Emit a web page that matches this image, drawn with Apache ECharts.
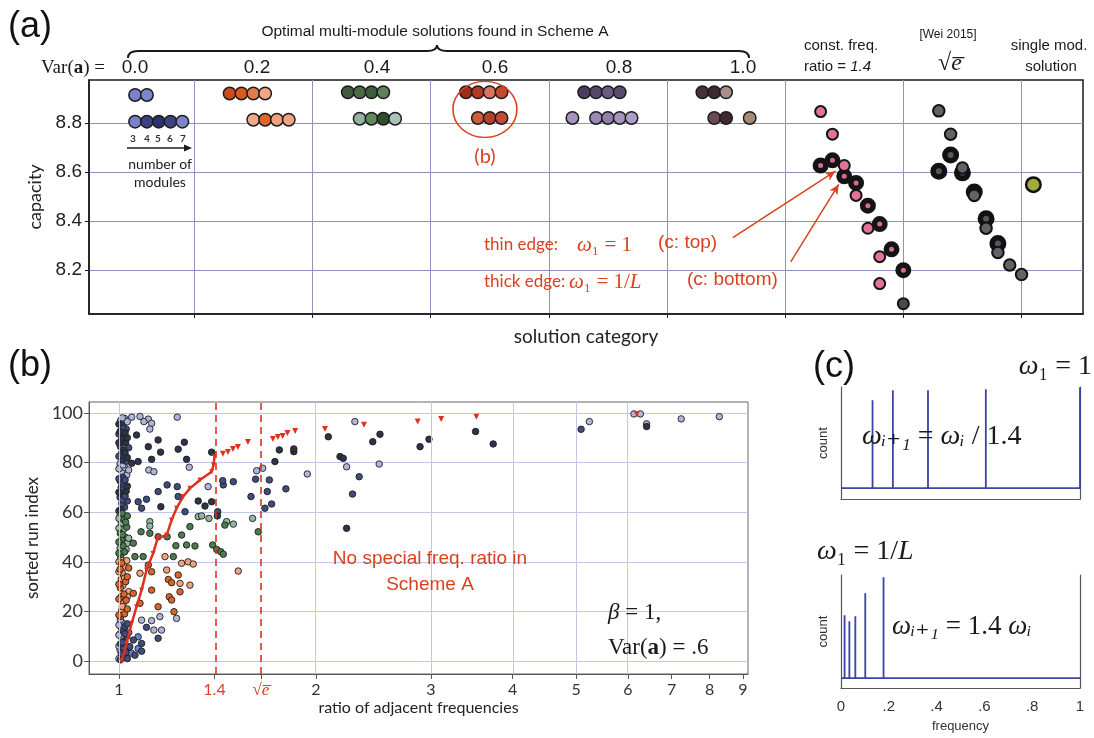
<!DOCTYPE html>
<html><head><meta charset="utf-8">
<script src="https://cdn.jsdelivr.net/npm/echarts@6/dist/echarts.min.js"></script>
<style>html,body{margin:0;padding:0;background:#fff}#c{width:1094px;height:738px}</style>
</head><body><div id="c"></div><script>
// ================= DATA =================
// ---- Panel (a): capacity of solutions per category ----
const A_CAT_LABELS = ['0.0', '0.2', '0.4', '0.6', '0.8', '1.0'];
const A_Y_TICKS = [8.2, 8.4, 8.6, 8.8];
const A_X_BOUNDS = [1, 2, 3, 4, 5, 6, 7, 8];
const A_MODULE_LABELS = ['3', '4', '5', '6', '7'];
// [position within solution category, capacity]
const varTopRow = [
  [0.5, 8.914], [0.6, 8.914],
  [1.3, 8.92], [1.4, 8.92], [1.5, 8.92], [1.6, 8.92],
  [2.3, 8.925], [2.4, 8.925], [2.5, 8.925], [2.6, 8.925],
  [3.3, 8.925], [3.4, 8.925], [3.5, 8.925], [3.6, 8.925],
  [4.3, 8.925], [4.4, 8.925], [4.5, 8.925], [4.6, 8.925],
  [5.3, 8.925], [5.4, 8.925], [5.5, 8.925]
];
const varTopColors = ['#7b80cc', '#7e83cd',
  '#cc4b1a', '#d85a22', '#e57b4c', '#f0a785',
  '#3f5b3c', '#4b6b47', '#3d5c3a', '#5f7f5b',
  '#9e2c19', '#b63a22', '#dc735c', '#c84a2e',
  '#4a3b60', '#56466e', '#6a5a84', '#5a4a73',
  '#4a2f38', '#3d2a31', '#a58f87'];
const varBottomRow = [
  [0.5, 8.805], [0.6, 8.805], [0.7, 8.805], [0.8, 8.805], [0.9, 8.805],
  [1.5, 8.813], [1.6, 8.813], [1.7, 8.813], [1.8, 8.813],
  [2.4, 8.817], [2.5, 8.817], [2.6, 8.817], [2.7, 8.817],
  [3.4, 8.82], [3.5, 8.82], [3.6, 8.82],
  [4.2, 8.82], [4.4, 8.82], [4.5, 8.82], [4.6, 8.82], [4.7, 8.82],
  [5.4, 8.82], [5.5, 8.82], [5.7, 8.82]
];
const varBottomColors = ['#7b80c9', '#3b4080', '#2c306e', '#3d4281', '#7f83c9',
  '#f2a98a', '#e2662a', '#f0a080', '#eea386',
  '#94b39d', '#5e8a5c', '#2f4d2e', '#a9c4b3',
  '#d15a3f', '#b7412a', '#c44b37',
  '#a694be', '#9b89b5', '#907eab', '#a395bd', '#ae9fc8',
  '#6b4a56', '#3d2a31', '#a28a7c'];
const constThin = [[6.3, 8.846], [6.4, 8.754], [6.5, 8.626], [6.6, 8.504], [6.7, 8.370], [6.8, 8.254], [6.8, 8.144], [7.0, 8.062]];
const constThinColors = ['#e4709c', '#e4709c', '#e4709c', '#e4709c', '#e4709c', '#e4709c', '#e4709c', '#4a4a4e'];
const constThick = [[6.3, 8.626], [6.4, 8.647], [6.5, 8.582], [6.6, 8.555], [6.7, 8.462], [6.8, 8.387], [6.9, 8.284], [7.0, 8.199]];
const sqrtEThin = [[7.3, 8.849], [7.4, 8.754], [7.5, 8.616], [7.6, 8.504], [7.7, 8.370], [7.8, 8.271], [7.9, 8.220], [8.0, 8.181]];
const sqrtEThick = [[7.3, 8.603], [7.4, 8.669], [7.5, 8.596], [7.6, 8.518], [7.7, 8.409], [7.8, 8.308]];
const singleModule = [[8.1, 8.548]];

// ---- Panel (b): ratio of adjacent frequencies vs sorted run index ----
const B_TICK_VALUES = [1, 1.4, Math.sqrt(Math.E), 2, 3, 4, 5, 6, 7, 8, 9];
const B_TICK_LABELS = ['1', '{r|1.4}', '{s|√}{si|e\u0305}', '2', '3', '4', '5', '6', '7', '8', '9'];
const B_GRID_RATIOS = [1, 2, 3, 4, 5, 6];
const B_SPECIAL_RATIOS = [1.4, Math.sqrt(Math.E)];
const B_Y_TICKS = [0, 20, 40, 60, 80, 100];
const bDark = [[1.064,91.1],[1.148,89.1],[1.259,88.2],[1.109,86.4],[1.158,84.2],[1.232,85.4],[1.386,84.2],[1.122,81.3],[1.269,81.3],[1.046,79.7],[1.070,80.4],[1.322,64.5],[1.354,62.5],[1.386,64.2],[1.159,62.2],[1.414,58.5],[1.759,85.1],[1.732,80.4],[1.851,84.4],[1.851,85.5],[2.090,90.4],[2.178,82.4],[2.203,81.7],[2.229,53.5],[2.444,88.4],[2.507,91.4],[2.887,86.4],[2.979,89.4],[3.51,92.5],[3.735,87.5],[6.41,94.5],
  [1.012,81],[1.018,85],[1.024,88],[1.006,61],[1.026,68.5],[1.01,89.5],[1.03,82],[1.004,92.5],
  [1.0,68],[1.03,70.5],[1.022,84],[1.0,88],[1.03,90],[1.022,92],[1.0,95.5]];
const bNavy = [[1.228,70.3],[1.148,68.3],[1.185,71.0],[1.232,66.3],[1.070,64.2],[1.102,65.2],[1.083,61.6],[1.262,60.2],[1.416,60.2],[1.444,71.0],[1.496,72.3],[1.441,72.7],[1.698,73.0],[1.618,73.3],[1.800,69.4],[1.686,68.3],[1.712,63.3],[1.592,66.3],[1.672,61.6],[2.330,74.3],[2.276,67.3],[5.09,93.4],[1.102,13.6],[1.148,9.2],[1.083,7.1],[1.052,8.5],[1.039,5.8],[1.083,4.0],[1.058,2.4],
  [1.02,62],[1.01,63.5],[1.03,64.5],[1.004,66],[1.016,67],[1.008,70],[1.018,71],[1.005,72.5],[1.014,74],[1.008,83.5],[1.005,86.5],[1.016,91],[1.026,93.5],[1.01,95],[1.012,1.5],[1.008,3],[1.025,3.5],[1.015,5.5],[1.006,7],[1.018,8],[1.028,10],[1.016,12],[1.022,14],[1.005,0.5],
  [1.0,60.5],[1.012,65],[1.022,66.5],[1.014,69],[1.0,73.5],[1.022,73],[1.026,80.5],[1.0,82.5],[1.035,86],[1.014,88.5],[1.0,91.5],[1.012,94],
  [1.03,1],[1.012,7.5],[1.022,11],[1.03,15]];
const bLavender = [[1.046,98.3],[1.109,97.5],[1.122,95.8],[1.228,98.3],[1.115,93.5],[1.281,78.1],[1.111,77.0],[1.131,76.3],[1.369,70.3],[1.659,77.7],[1.624,76.7],[1.941,75.4],[2.229,78.3],[2.295,96.5],[2.500,79.4],[5.24,96.5],[6.13,99.6],[6.27,99.6],[6.41,95.6],[7.24,97.6],[8.28,98.5],[1.155,17.9],[1.225,17.2],[1.083,16.5],[1.122,16.3],[1.131,12.5],[1.162,12.5],[1.077,98.6],[1.092,96.5],
  [1.028,75],[1.01,76.5],[1.02,78],[1.004,79.5],[1.018,96],[1.006,97],[1.02,97.8],[1.004,11],[1.01,9.5],[1.02,2],[1.03,6],[1.012,15.5],[1.008,13.5],[1.005,16.5],[1.004,4.5],
  [1.035,77],[1.0,77.5],[1.014,79],[1.03,96.5],[1.012,98],[1.0,1],[1.0,6],[1.0,10.5],[1.0,14.5]];
const bBlue = [[1.070,9.8],[1.070,5.1],[1.035,11.5],[1.045,3.2]];
const bOrange = [[1.109,38.7],[1.122,36.0],[1.190,32.9],[1.232,34.7],[1.204,31.6],[1.122,28.6],[1.240,27.9],[1.194,25.9],[1.204,24.6],[1.052,27.3],[1.077,23.3],[1.148,21.9],[1.214,19.9],
  [1.006,18],[1.02,19],[1.03,21],[1.026,24.5],[1.018,27],[1.005,29.5],[1.024,32],[1.03,34],[1.004,37],[1.01,39.5],
  [1.0,18.5],[1.0,25],[1.0,31],[1.035,37.5]];
const bSalmon = [[1.176,42.1],[1.247,39.4],[1.276,40.0],[1.299,39.1],[1.522,36.3],[1.077,35.4],[1.183,36.7],[1.240,31.3],[1.284,30.6],
  [1.01,20.5],[1.016,23.5],[1.008,26],[1.035,28],[1.014,30.5],[1.008,33],[1.012,35.5],[1.02,38],[1.028,40.5],[1.006,41.5],
  [1.012,22],[1.03,26],[1.02,33.5],[1.0,36],[1.0,40]];
const bGreen = [[1.452,54.8],[1.633,52.1],[1.081,52.1],[1.115,51.5],[1.148,50.1],[1.185,50.1],[1.284,54.2],[1.247,50.8],[1.222,46.5],[1.269,46.8],[1.307,46.4],[1.391,46.8],[1.411,45.0],[1.431,44.1],[1.444,43.1],[1.052,47.5],[1.058,42.1],[1.089,42.1],[1.211,42.1],
  [1.008,43],[1.02,44],[1.014,46.5],[1.01,49],[1.005,51.5],[1.028,54],[1.018,57],[1.012,59.5],
  [1.0,43.5],[1.0,48],[1.012,51],[1.024,56],[1.03,58.5]];
const bLightGreen = [[1.322,58.2],[1.338,58.5],[1.373,57.5],[1.461,56.2],[1.496,55.2],[1.601,57.5],[1.115,56.2],[1.115,54.4],
  [1.004,45.5],[1.03,47.5],[1.022,50],[1.016,53],[1.008,55.5],[1.004,58.5],
  [1.026,45],[1.035,49.5],[1.0,53.5],[1.0,57.5]];
// sorted per-run frequency ratio (red)
const bRedCurve = [[1.01,0],[1.027,7.1],[1.046,15.2],[1.064,21.9],[1.083,28.6],[1.102,36.7],[1.128,43.4],[1.146,49.5],[1.183,50.8],[1.204,56.9],[1.225,61.6],[1.254,66.3],[1.284,69.6],[1.33,73],[1.386,76.3],[1.395,79],[1.40,82.4]];
const bRedSparse = [[1.442,83.5],[1.468,84.3],[1.494,85.5],[1.52,86.3],[1.575,88.3],[1.72,89.5],[1.75,90.3],[1.78,90.7],[1.81,91.9],[1.86,92.7],[2.066,93.5],[2.37,95.2],[2.863,96.5],[3.11,97.6],[3.52,98.5],[6.19,99.6]];

// ---- Panel (c): frequency histograms ----
const C_X_LABELS = ['0', '.2', '.4', '.6', '.8', '1'];
const cTopFreq = [0.132, 0.217, 0.364, 0.606, 1.0];
const cTopCount = [88, 98, 98, 99, 101];
const cBotFreq = [0.015, 0.035, 0.060, 0.1015, 0.178];
const cBotCount = [63, 57, 62, 85, 101];

// ================= BUILD =================
const RED = '#d9411e';
const SERIF = '"Liberation Serif", "DejaVu Serif", serif';
function lnPts(a) { return a.map(p => [Math.log(p[0]), p[1]]); }
function spikes(f, c) {
  const d = [[0, 0]];
  f.forEach((x, i) => { d.push([x, 0], [x, c[i]], [x, 0]); });
  d.push([1, 0]);
  return d;
}
function T(x, y, text, font, fill, align, extra) {
  const st = Object.assign({ text: text, font: font, fill: fill || '#1a1a1a',
    align: align || 'center', verticalAlign: 'middle', textAlign: align || 'center', textVerticalAlign: 'middle' }, extra || {});
  return { type: 'text', x: x, y: y, z: 100, silent: true, style: st };
}
const mathRich = (size, col) => ({
  i: { font: 'italic ' + size + 'px ' + SERIF, fill: col, color: col },
  r: { font: size + 'px ' + SERIF, fill: col, color: col },
  b: { font: 'bold ' + size + 'px ' + SERIF, fill: col, color: col }
});

const bLnTicks = B_TICK_VALUES.map(v => Math.log(v));
function bLabel(v) {
  for (let i = 0; i < bLnTicks.length; i++) if (Math.abs(bLnTicks[i] - v) < 1e-6) return B_TICK_LABELS[i];
  return '';
}

const noSplit = { show: false };
const axLine = (c, w) => ({ show: true, onZero: false, lineStyle: { color: c, width: w || 1 } });
const braceStyle = { stroke: '#1a1a1a', lineWidth: 2, fill: 'none' };

const graphics = [
  T(8, 27, '(a)', '36px "Liberation Sans"', '#111', 'left'),
  T(435, 32, 'Optimal multi-module solutions found in Scheme A', '15.5px "Liberation Sans"', '#1a1a1a'),
  { type: 'bezierCurve', z: 100, silent: true, shape: { x1: 128, y1: 58, cpx1: 128, cpy1: 51, x2: 138, y2: 51 }, style: braceStyle },
  { type: 'line', z: 100, silent: true, shape: { x1: 138, y1: 51, x2: 427, y2: 51 }, style: braceStyle },
  { type: 'bezierCurve', z: 100, silent: true, shape: { x1: 427, y1: 51, cpx1: 437, cpy1: 51, x2: 437, y2: 45 }, style: braceStyle },
  { type: 'bezierCurve', z: 100, silent: true, shape: { x1: 437, y1: 45, cpx1: 437, cpy1: 51, x2: 447, y2: 51 }, style: braceStyle },
  { type: 'line', z: 100, silent: true, shape: { x1: 447, y1: 51, x2: 739, y2: 51 }, style: braceStyle },
  { type: 'bezierCurve', z: 100, silent: true, shape: { x1: 739, y1: 51, cpx1: 749, cpy1: 51, x2: 749, y2: 58 }, style: braceStyle },
  T(105, 68, '{r|Var(}{b|a}{r|) =}', '19px ' + SERIF, '#1a1a1a', 'right', { rich: mathRich(19, '#1a1a1a') }),
  T(804, 46, 'const. freq.', '15px "Liberation Sans"', '#1a1a1a', 'left'),
  T(804, 67, '{n|ratio = }{it|1.4}', '15px "Liberation Sans"', '#1a1a1a', 'left',
    { rich: { n: { font: '15px "Liberation Sans"', fill: '#1a1a1a' }, it: { font: 'italic 15px "Liberation Sans"', fill: '#1a1a1a' } } }),
  T(948, 35, '[Wei 2015]', '12px "Liberation Sans"', '#1a1a1a'),
  T(950, 64, '{r|√}{i|e\u0305}', '24px ' + SERIF, '#1a1a1a', 'center', { rich: mathRich(24, '#1a1a1a') }),
  T(1049, 46, 'single mod.', '15px "Liberation Sans"', '#1a1a1a'),
  T(1051, 67, 'solution', '15px "Liberation Sans"', '#1a1a1a'),
  T(485, 157, '(b)', '20px Lato', RED),
  T(484, 245, 'thin edge:', '17px Lato', RED, 'left'),
  T(577, 245, '{i|ω}{r|₁ = 1}', '21px ' + SERIF, RED, 'left', { rich: mathRich(21, RED) }),
  T(658, 243, '(c: top)', '19px "Liberation Sans"', RED, 'left'),
  T(484, 282, 'thick edge:', '17px Lato', RED, 'left'),
  T(569, 282, '{i|ω}{r|₁ = 1/}{i|L}', '21px ' + SERIF, RED, 'left', { rich: mathRich(21, RED) }),
  T(687, 280, '(c: bottom)', '19px "Liberation Sans"', RED, 'left'),
  { type: 'line', z: 100, silent: true, shape: { x1: 127, y1: 148, x2: 186, y2: 148 }, style: { stroke: '#1a1a1a', lineWidth: 1.5 } },
  { type: 'polygon', z: 100, silent: true, shape: { points: [[192, 148], [184, 144.5], [184, 151.5]] }, style: { fill: '#1a1a1a' } },
  T(192, 164, 'number of', '14px Lato', '#1a1a1a', 'right'),
  T(160, 182, 'modules', '14px Lato', '#1a1a1a'),
  T(8, 366, '(b)', '36px "Liberation Sans"', '#111', 'left'),
  T(430, 559, 'No special freq. ratio in', '19px "Liberation Sans"', RED),
  T(430, 585, 'Scheme A', '19px "Liberation Sans"', RED),
  T(608, 613, '{i|β}{r| = 1,}', '23px ' + SERIF, '#1a1a1a', 'left', { rich: mathRich(23, '#1a1a1a') }),
  T(608, 648, '{r|Var(}{b|a}{r|) = .6}', '23px ' + SERIF, '#1a1a1a', 'left', { rich: mathRich(23, '#1a1a1a') }),
  T(813, 367, '(c)', '36px "Liberation Sans"', '#111', 'left'),
  T(1092, 367, '{i|ω}{r|₁ = 1}', '28px ' + SERIF, '#1a1a1a', 'right', { rich: mathRich(28, '#1a1a1a') }),
  T(862, 437, '{i|ωᵢ₊₁}{r| = }{i|ωᵢ}{r| / 1.4}', '28px ' + SERIF, '#1a1a1a', 'left', { rich: mathRich(28, '#1a1a1a') }),
  T(817, 552, '{i|ω}{r|₁ = 1/}{i|L}', '28px ' + SERIF, '#1a1a1a', 'left', { rich: mathRich(28, '#1a1a1a') }),
  T(892, 627, '{i|ωᵢ₊₁}{r| = 1.4 }{i|ωᵢ}', '27px ' + SERIF, '#1a1a1a', 'left', { rich: mathRich(27, '#1a1a1a') })
];
const A_LABEL_X = [135, 257, 377, 495, 619, 743];
A_CAT_LABELS.forEach((t, i) => graphics.push(T(A_LABEL_X[i], 68, t, '19px "Liberation Sans"', '#1a1a1a')));
const MOD_X = [133, 147, 158, 170, 183];
A_MODULE_LABELS.forEach((t, i) => graphics.push(T(MOD_X[i], 139, t, 'bold 10px Lato', '#333')));

function dotSeries(data, color, z) {
  return { type: 'scatter', xAxisIndex: 1, yAxisIndex: 1, data: lnPts(data), symbolSize: 6.5, z: z || 3,
    itemStyle: { color: color, borderColor: '#1e1e1e', borderWidth: 0.9, opacity: 1 } };
}

const option = {
  animation: false,
  backgroundColor: '#fff',
  grid: [
    { left: 89, top: 80, width: 994, height: 234, show: true, borderColor: '#1a1a1a', borderWidth: 1.5, backgroundColor: 'transparent' },
    { left: 89, top: 402, width: 659, height: 272, show: true, borderColor: '#666', borderWidth: 1, backgroundColor: 'transparent' },
    { left: 841, top: 387, width: 239, height: 112 },
    { left: 841, top: 575, width: 239, height: 113 }
  ],
  xAxis: [
    { gridIndex: 0, type: 'value', min: 0.11, max: 8.52, splitNumber: 9,
      axisLine: axLine('#1a1a1a', 1.5), axisTick: { show: true, length: 4, customValues: A_X_BOUNDS, lineStyle: { color: '#1a1a1a' } },
      axisLabel: { show: false }, splitLine: { show: true, lineStyle: { color: '#8f93bb', width: 1 } },
      name: 'solution category', nameLocation: 'middle', nameGap: 13, nameTextStyle: { fontFamily: 'Lato', fontSize: 19, color: '#222' } },
    { gridIndex: 1, type: 'value', min: Math.log(0.9), max: Math.log(9.16),
      axisLine: axLine('#555'), axisTick: { show: true, length: 5, customValues: bLnTicks, lineStyle: { color: '#555' } },
      axisLabel: { customValues: bLnTicks, formatter: bLabel, fontSize: 16, fontFamily: 'Lato', color: '#333', margin: 8,
        rich: { r: { color: RED, fontSize: 16, fontFamily: 'Lato' }, s: { color: RED, fontSize: 17, fontFamily: 'Liberation Serif' },
                si: { color: RED, fontSize: 17, fontFamily: 'Liberation Serif', fontStyle: 'italic' } } },
      splitLine: noSplit,
      name: 'ratio of adjacent frequencies', nameLocation: 'middle', nameGap: 23, nameTextStyle: { fontFamily: 'Lato', fontSize: 16, color: '#222' } },
    { gridIndex: 2, type: 'value', min: 0, max: 1, axisLine: axLine('#555', 1.2), axisTick: { show: false }, axisLabel: { show: false }, splitLine: noSplit },
    { gridIndex: 3, type: 'value', min: 0, max: 1, interval: 0.2, axisLine: axLine('#555', 1.2), axisTick: { show: false },
      axisLabel: { formatter: v => C_X_LABELS[Math.round(v * 5)], fontSize: 15, fontFamily: 'Liberation Sans', color: '#333', margin: 11 },
      splitLine: noSplit, name: 'frequency', nameLocation: 'middle', nameGap: 32, nameTextStyle: { fontFamily: 'Liberation Sans', fontSize: 13, color: '#333' } }
  ],
  yAxis: [
    { gridIndex: 0, type: 'value', min: 8.02, max: 8.975,
      axisLine: axLine('#1a1a1a', 1.5), axisTick: { show: true, length: 4, customValues: A_Y_TICKS, lineStyle: { color: '#1a1a1a' } },
      axisLabel: { customValues: A_Y_TICKS, formatter: v => v.toFixed(1), fontSize: 19, fontFamily: 'Liberation Sans', color: '#222', margin: 7 },
      splitLine: { show: true, lineStyle: { color: '#8f93bb', width: 1 } },
      name: 'capacity', nameLocation: 'middle', nameGap: 43, nameTextStyle: { fontFamily: 'Lato', fontSize: 18, color: '#222' } },
    { gridIndex: 1, type: 'value', min: -5.2, max: 104.4,
      axisLine: axLine('#555'), axisTick: { show: true, length: 5, customValues: B_Y_TICKS, lineStyle: { color: '#555' } },
      axisLabel: { customValues: B_Y_TICKS, fontSize: 18, fontFamily: 'Lato', color: '#333', margin: 6 },
      splitLine: { show: true, lineStyle: { color: '#c3c6e6', width: 1 } },
      name: 'sorted run index', nameLocation: 'middle', nameGap: 37, nameTextStyle: { fontFamily: 'Lato', fontSize: 17, color: '#222' } },
    { gridIndex: 2, type: 'value', min: -11, max: 101.3, axisLine: axLine('#555', 1.2), axisTick: { show: false }, axisLabel: { show: false }, splitLine: noSplit,
      name: 'count', nameLocation: 'middle', nameGap: 11, nameTextStyle: { fontFamily: 'Liberation Sans', fontSize: 13, color: '#333' } },
    { gridIndex: 2, type: 'value', position: 'right', min: -11, max: 101.3, axisLine: axLine('#555', 1.2), axisTick: { show: false }, axisLabel: { show: false }, splitLine: noSplit },
    { gridIndex: 3, type: 'value', min: -10, max: 103.3, axisLine: axLine('#555', 1.2), axisTick: { show: false }, axisLabel: { show: false }, splitLine: noSplit,
      name: 'count', nameLocation: 'middle', nameGap: 11, nameTextStyle: { fontFamily: 'Liberation Sans', fontSize: 13, color: '#333' } },
    { gridIndex: 3, type: 'value', position: 'right', min: -10, max: 103.3, axisLine: axLine('#555', 1.2), axisTick: { show: false }, axisLabel: { show: false }, splitLine: noSplit }
  ],
  series: [
    // ----- (a) -----
    { type: 'scatter', xAxisIndex: 0, yAxisIndex: 0, data: varTopRow, symbolSize: 12.5, z: 3,
      itemStyle: { color: p => varTopColors[p.dataIndex], borderColor: '#1c1c1c', borderWidth: 1.5, opacity: 1 } },
    { type: 'scatter', xAxisIndex: 0, yAxisIndex: 0, data: varBottomRow, symbolSize: 12.5, z: 3,
      itemStyle: { color: p => varBottomColors[p.dataIndex], borderColor: '#1c1c1c', borderWidth: 1.5, opacity: 1 } },
    { type: 'scatter', xAxisIndex: 0, yAxisIndex: 0, data: constThick, symbolSize: 10.5, z: 3,
      itemStyle: { color: '#d96a98', borderColor: '#141414', borderWidth: 5.5, opacity: 1 } },
    { type: 'scatter', xAxisIndex: 0, yAxisIndex: 0, data: constThin, symbolSize: 11, z: 4,
      itemStyle: { color: p => constThinColors[p.dataIndex], borderColor: '#141414', borderWidth: 2, opacity: 1 } },
    { type: 'scatter', xAxisIndex: 0, yAxisIndex: 0, data: sqrtEThick, symbolSize: 11.5, z: 3,
      itemStyle: { color: '#55585d', borderColor: '#111', borderWidth: 5.5, opacity: 1 } },
    { type: 'scatter', xAxisIndex: 0, yAxisIndex: 0, data: sqrtEThin, symbolSize: 11.5, z: 4,
      itemStyle: { color: '#606469', borderColor: '#111', borderWidth: 2, opacity: 1 } },
    { type: 'scatter', xAxisIndex: 0, yAxisIndex: 0, data: singleModule, symbolSize: 14.5, z: 4,
      itemStyle: { color: '#a3aa3a', borderColor: '#111', borderWidth: 2.5, opacity: 1 } },
    { type: 'scatter', xAxisIndex: 0, yAxisIndex: 0, data: [], z: 5,
      markPoint: { silent: true, symbol: 'circle', symbolSize: [64, 56], label: { show: false },
        itemStyle: { color: 'rgba(0,0,0,0)', borderColor: RED, borderWidth: 1.5 }, data: [{ coord: [3.46, 8.855] }] },
      markLine: { silent: true, symbol: ['none', 'arrow'], symbolSize: [7, 10], label: { show: false },
        lineStyle: { color: RED, width: 1.5, type: 'solid' },
        data: [[{ coord: [5.557, 8.332] }, { coord: [6.425, 8.603] }], [{ coord: [6.047, 8.233] }, { coord: [6.453, 8.549] }]] } },
    // ----- (b) -----
    { type: 'scatter', xAxisIndex: 1, yAxisIndex: 1, data: [], z: 1,
      markLine: { silent: true, symbol: ['none', 'none'], label: { show: false }, lineStyle: { color: '#c3c6e6', width: 1, type: 'solid' },
        data: B_GRID_RATIOS.map(r => ({ xAxis: Math.log(r) })) } },
    { type: 'scatter', xAxisIndex: 1, yAxisIndex: 1, data: [], z: 2,
      markLine: { silent: true, symbol: ['none', 'none'], label: { show: false }, lineStyle: { color: '#e0301e', width: 1.6, type: [7, 5] },
        data: B_SPECIAL_RATIOS.map(r => ({ xAxis: Math.log(r) })) } },
    dotSeries(bLavender, '#b0b5dc'),
    dotSeries(bBlue, '#6d80c6'),
    dotSeries(bNavy, '#414c7e'),
    dotSeries(bDark, '#2e3448'),
    dotSeries(bSalmon, '#f0a27c'),
    dotSeries(bOrange, '#d9652b'),
    dotSeries(bLightGreen, '#94b99e'),
    dotSeries(bGreen, '#4d7b50'),
    { type: 'line', xAxisIndex: 1, yAxisIndex: 1, data: lnPts(bRedCurve), z: 6, symbol: 'triangle', symbolRotate: 180, symbolSize: 5, showSymbol: true,
      lineStyle: { color: '#e0301e', width: 2.5 }, itemStyle: { color: '#e0301e' } },
    { type: 'scatter', xAxisIndex: 1, yAxisIndex: 1, data: lnPts(bRedSparse), z: 6, symbol: 'triangle', symbolRotate: 180, symbolSize: 6,
      itemStyle: { color: '#e0301e', opacity: 1 } },
    // ----- (c) -----
    { type: 'line', xAxisIndex: 2, yAxisIndex: 2, data: spikes(cTopFreq, cTopCount), showSymbol: false, z: 3,
      lineStyle: { color: '#3a44a5', width: 1.8 } },
    { type: 'line', xAxisIndex: 3, yAxisIndex: 4, data: spikes(cBotFreq, cBotCount), showSymbol: false, z: 3,
      lineStyle: { color: '#3a44a5', width: 1.8 } }
  ],
  graphic: graphics
};
const chart = echarts.init(document.getElementById('c'), null, { renderer: 'canvas' });
chart.setOption(option);
</script></body></html>
